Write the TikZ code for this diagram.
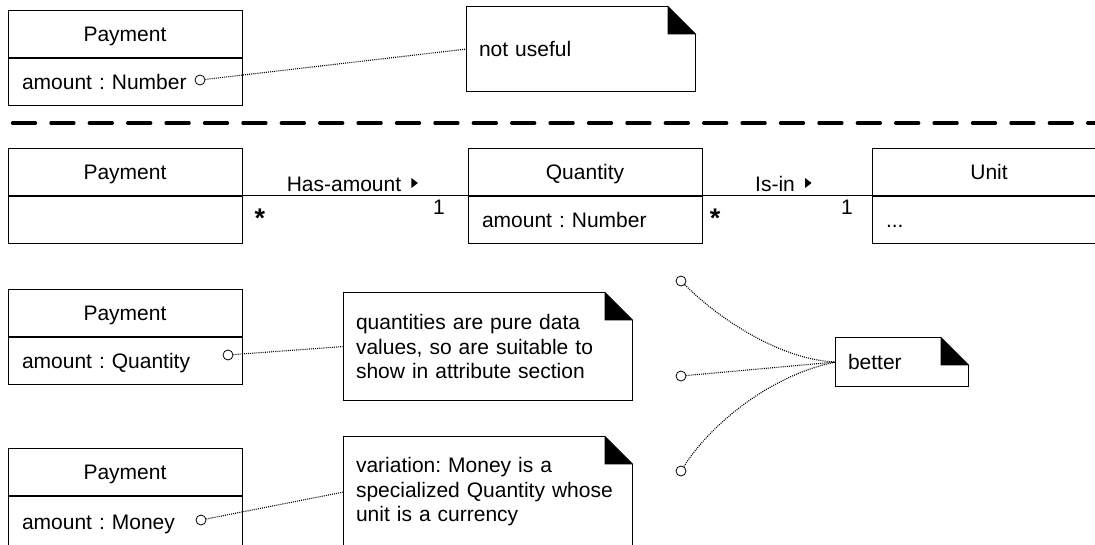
\documentclass[tikz,border=0pt]{standalone}
\usepackage{fontspec}
\setmainfont{Liberation Sans}
\usetikzlibrary{positioning}
\tikzset{
  cls/.style={draw, line width=1pt, minimum width=234pt, minimum height=47pt, inner sep=0pt, text height=15pt, text depth=0pt},
  attr/.style={cls, inner xsep=14pt, text width=206pt, align=left},
  note/.style={inner xsep=12pt, inner ysep=0pt, text width=#1, align=left},
  port/.style={draw, circle, line width=0.8pt, minimum size=10pt, inner sep=0pt},
  link/.style={line width=1.1pt, dash pattern=on 1pt off 1.1pt},
  lbl/.style={inner sep=0pt, anchor=base},
  many/.style={lbl, font=\fontsize{27}{27}\selectfont\bfseries}
}
% note outline with black folded corner
\newcommand\foldnote[1]{%
  \draw[line width=1pt] ([xshift=-27pt]#1.north east) -- (#1.north west) -- (#1.south west)
    -- (#1.south east) -- ([yshift=-27pt]#1.north east);
  \filldraw[line width=1pt] ([xshift=-27pt]#1.north east) -- ([xshift=-27pt,yshift=-27pt]#1.north east)
    -- ([yshift=-27pt]#1.north east) -- cycle;}
% reading direction mark after an association name
\newcommand\dirmark[1]{\fill ([xshift=10pt,yshift=3pt]#1.base east) -- ++(0pt,10pt) -- ++(6.5pt,-5pt) -- cycle;}
\begin{document}
\begin{tikzpicture}[x=1pt, y=-1pt, font=\fontsize{21}{24.5}\selectfont\frenchspacing]
\path[use as bounding box, clip] (0,0) rectangle (1095,544);

% amount as a plain number
\node[cls] (pay1) at (125,33.5) {Payment};
\node[attr, below=0pt of pay1] (pay1a) {amount : Number};
\node[port] (c1) at (200,80) {};
\node[note=204pt, minimum height=84pt] (n1) at (581,49) {not useful};
\foldnote{n1}
\draw[link] (c1) -- (n1.west);

\coordinate (sepL) at (12.5,123);
\coordinate (sepR) at (1095,123);
\draw[line width=3.3pt, line cap=round, dash pattern=on 23pt off 15.4pt] (sepL) -- (sepR);

% quantity and unit as classes
\node[cls] (pay2) at (125,171.5) {Payment};
\node[cls, below=0pt of pay2] (pay2a) {};
\node[cls] (qty) at (585,171.5) {Quantity};
\node[attr, below=0pt of qty] (qtya) {amount : Number};
\node[cls] (unit) at (989,171.5) {Unit};
\node[attr, below=0pt of unit] (unita) {...};
\draw[line width=1pt] (pay2.south east) -- (qty.south west);
\draw[line width=1pt] (qty.south east) -- (unit.south west);
\node[lbl] (has) at (344,191) {Has-amount};
\dirmark{has}
\node[many] (m1) at (260,227) {*};
\node[lbl] (m2) at (439,214) {1};
\node[lbl] (isin) at (775,191) {Is-in};
\dirmark{isin}
\node[many] (m3) at (715,227) {*};
\node[lbl] (m4) at (847,214) {1};

% amount as a quantity
\node[cls] (pay3) at (125,312.5) {Payment};
\node[attr, below=0pt of pay3] (pay3a) {amount : Quantity};
\node[port] (c3) at (228,355) {};
\node[note=264pt, minimum height=107pt] (n3) at (488,346.5) {quantities are pure data\\values, so are suitable to\\show in attribute section};
\foldnote{n3}
\draw[link] (c3) -- (n3.west);

% amount as money
\node[cls] (pay4) at (125,472) {Payment};
\node[attr, below=0pt of pay4, minimum height=50pt] (pay4a) {amount : Money};
\node[port] (c4) at (201,520) {};
\node[note=264pt, minimum height=110pt] (n4) at (488,492) {variation: Money is a\\specialized Quantity whose\\unit is a currency};
\foldnote{n4}
\draw[link] (c4) -- (n4.west);

\node[note=108pt, minimum height=48pt] (better) at (902,362) {better};
\foldnote{better}
\foreach \y [count=\i] in {281,376,471}
  \node[port] (b\i) at (681,\y) {};
\draw[link] (b1) .. controls (718,318) and (780,360) .. (better.west);
\draw[link] (b2) -- (better.west);
\draw[link] (b3) .. controls (710,425) and (770,375) .. (better.west);
\end{tikzpicture}
\end{document}
